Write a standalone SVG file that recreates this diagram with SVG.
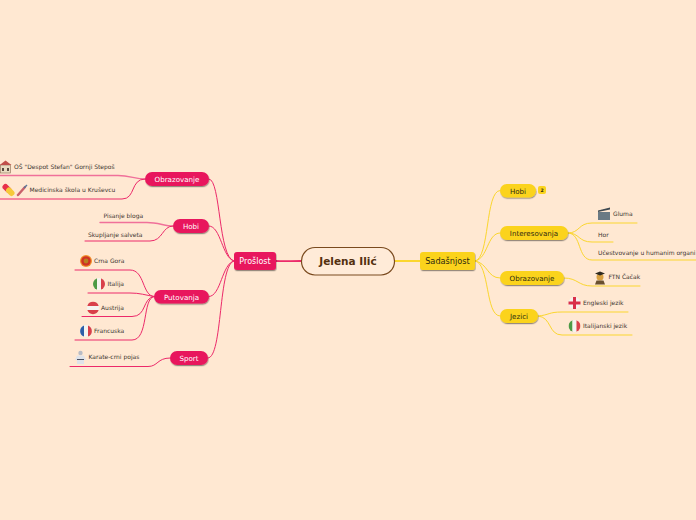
<svg xmlns="http://www.w3.org/2000/svg" width="696" height="520" viewBox="0 0 696 520">
<defs>
<filter id="sh" x="-20%" y="-30%" width="140%" height="170%"><feDropShadow dx="0.5" dy="1.2" stdDeviation="0.7" flood-color="#000" flood-opacity="0.4"/></filter>
<clipPath id="cc"><circle cx="0" cy="0" r="6"/></clipPath>
<g id="it"><g clip-path="url(#cc)"><rect x="-6" y="-6" width="4" height="12" fill="#4c9a45"/><rect x="-2" y="-6" width="4" height="12" fill="#f4f4f0"/><rect x="2" y="-6" width="4" height="12" fill="#d9404a"/></g></g>
</defs>
<style>
text{font-family:"DejaVu Sans",Verdana,sans-serif}
.r{fill:none;stroke:#ec2a6a;stroke-linecap:round}
.y{fill:none;stroke:#fbd62e;stroke-linecap:round}
.lr{stroke:#f0709a}
.n1{filter:url(#sh)}
.wt{fill:#fff;font-size:7.100px;text-anchor:middle}
.bt{fill:#2e2a10;font-size:7.100px;text-anchor:middle}
.lf{fill:#3d3530;font-size:6px}
</style>
<rect width="696" height="520" fill="#ffe8d2"/>
<g id="connectors">
<path class="r" stroke-width="1.800" d="M301 261C290 261 285 261.500 276 261"/>
<path class="y" stroke-width="1.800" d="M395 261C405 261 410 261 420 261"/>
<g stroke-width="1">
<path class="r" d="M234 261C218 258 221 179 209 179"/>
<path class="r" d="M234 261C222 258 221 226 209 226"/>
<path class="r" d="M234 261C222 263 221 296.500 209 296.500"/>
<path class="r" d="M234 261C218 264 223 358 208 358"/>
<path class="y" d="M475 261C490 259 485 190.500 500 190.500"/>
<path class="y" d="M475 261C488 259 487 233 500 233"/>
<path class="y" d="M475 261C488 263 487 278 500 278"/>
<path class="y" d="M475 261C490 263 485 316 500 316"/>
<path class="r" d="M154 296.500C142 296 145 270 130 270H75"/>
<path class="r" d="M154 296.500C145 295 140 293 130 293H88"/>
<path class="r" d="M154 296.500C142 298 147 316.500 132 316.500H82"/>
<path class="r" d="M154 296.500C142 298 149 340 132 340H75"/>
<path class="r" d="M170 358C157 358 158 366.500 148 366.500H70"/>
<path class="r lr" stroke-width="1.400" d="M145 179C135 179 130 175.500 118 175.500H0"/>
<path class="r" d="M145 179C130 179 136 199 122 199H0"/>
<path class="r lr" stroke-width="1.400" d="M173 226C165 226 158 222.500 147 222.500H100"/>
<path class="r" d="M173 226C162 226 163 241 150 241H85"/>
<path class="y" d="M568 233C580 233 578 223 592 223H637"/>
<path class="y" d="M568 233C580 233 578 242 592 242H613"/>
<path class="y" d="M568 233C582 233 577 260 592 260H696"/>
<path class="y" d="M564 278C578 278 578 286 592 286H640"/>
<path class="y" d="M538 316C550 315 548 312 562 312H628"/>
<path class="y" d="M538 316C552 317 548 335 562 335H632"/>
</g>
</g>
<g id="root"><rect x="301.500" y="247.500" width="93" height="27.500" rx="13.500" fill="#ffebd8" stroke="#7a4a1e" stroke-width="1.200"/><text x="348" y="265" font-size="10.500" font-weight="700" text-anchor="middle" fill="#53300f">Jelena Ilić</text></g>
<g id="proslost"><rect class="n1" x="234" y="252" width="42" height="18" rx="3" fill="#e8185d"/><text class="wt" x="255" y="264" style="font-size:8px">Prošlost</text></g>
<g id="sadasnjost"><rect class="n1" x="420" y="252" width="55" height="18" rx="3" fill="#fbd31e"/><text class="bt" x="447.500" y="264" style="font-size:8.200px">Sadašnjost</text></g>
<g id="obrazovanje-l"><rect class="n1" x="145" y="172" width="64" height="14" rx="7" fill="#e8185d"/><text class="wt" x="177" y="182">Obrazovanje</text></g>
<g id="hobi-l"><rect class="n1" x="173" y="219" width="36" height="14" rx="7" fill="#e8185d"/><text class="wt" x="191" y="229">Hobi</text></g>
<g id="putovanja"><rect class="n1" x="154" y="290" width="55" height="13.500" rx="6.700" fill="#e8185d"/><text class="wt" x="181.500" y="300">Putovanja</text></g>
<g id="sport"><rect class="n1" x="170" y="351" width="38" height="14" rx="7" fill="#e8185d"/><text class="wt" x="189" y="361">Sport</text></g>
<g id="hobi-r"><rect class="n1" x="500" y="184" width="36" height="13.500" rx="6.700" fill="#fbd31e"/><text class="bt" x="518" y="193.500">Hobi</text></g>
<g id="badge"><rect x="538" y="186" width="8" height="8" rx="2" fill="#fbd31e"/><text x="542" y="192" font-size="4.600" font-weight="700" text-anchor="middle" fill="#2e2a10">2</text></g>
<g id="interesovanja"><rect class="n1" x="500" y="226" width="68" height="14" rx="7" fill="#fbd31e"/><text class="bt" x="534" y="236">Interesovanja</text></g>
<g id="obrazovanje-r"><rect class="n1" x="500" y="271" width="64" height="14" rx="7" fill="#fbd31e"/><text class="bt" x="532" y="281">Obrazovanje</text></g>
<g id="jezici"><rect class="n1" x="500" y="309" width="38" height="14" rx="7" fill="#fbd31e"/><text class="bt" x="519" y="319">Jezici</text></g>
<g id="leaf-os"><rect x="0.500" y="165" width="10" height="8" fill="#e8dcc0" stroke="#8a6a50" stroke-width=".6"/><path d="M-0.500 165L5.500 160.500L11.500 165Z" fill="#c0504a"/><rect x="2" y="168" width="2" height="3" fill="#5a4a40"/><rect x="7" y="168" width="2" height="3" fill="#5a4a40"/><text class="lf" x="14" y="169">OŠ "Despot Stefan" Gornji Stepoš</text></g>
<g id="leaf-med"><path d="M5.500 187L8.500 190" stroke="#e8304a" stroke-width="6" stroke-linecap="round" fill="none"/><path d="M9 190.500L11.500 193" stroke="#f6c93a" stroke-width="6" stroke-linecap="round" fill="none"/><path d="M18 195L25 187" stroke="#c9606a" stroke-width="2.400" stroke-linecap="round"/><path d="M24 188L27 185" stroke="#5a7a9a" stroke-width="1.500"/><text class="lf" x="29.500" y="192">Medicinska škola u Kruševcu</text></g>
<g id="leaf-pisanje"><text class="lf" x="103.500" y="218">Pisanje bloga</text></g>
<g id="leaf-skupljanje"><text class="lf" x="88" y="237">Skupljanje salveta</text></g>
<g id="leaf-crna"><circle cx="86" cy="261" r="6" fill="#f0902a"/><circle cx="86" cy="261" r="4.800" fill="#cf3324"/><circle cx="86" cy="261" r="2.400" fill="#b8801f"/><text class="lf" x="94" y="263">Crna Gora</text></g>
<g id="leaf-italija"><use href="#it" transform="translate(99 284)"/><text class="lf" x="107.500" y="286">Italija</text></g>
<g id="leaf-austrija"><circle cx="93" cy="308" r="6" fill="#f4f4f0"/><path d="M87.300 306a6 6 0 0 1 11.400 0Z" fill="#d9404a"/><path d="M87.300 310a6 6 0 0 0 11.400 0Z" fill="#d9404a"/><text class="lf" x="101" y="310">Austrija</text></g>
<g id="leaf-francuska"><circle cx="86" cy="331" r="6" fill="#f4f4f0"/><path d="M84 325.400a6 6 0 0 0 0 11.200Z" fill="#2d5ea8"/><path d="M88 325.400a6 6 0 0 1 0 11.200Z" fill="#d9404a"/><text class="lf" x="94" y="333">Francuska</text></g>
<g id="leaf-karate"><circle cx="80.500" cy="353" r="2.200" fill="#b8bcc6"/><path d="M77 355.500h7l2 4.500h-2v4h-7v-4h-2Z" fill="#dfe3ea"/><rect x="77" y="359" width="7" height="1" fill="#4a5060"/><text class="lf" x="88.500" y="359">Karate-crni pojas</text></g>
<g id="leaf-gluma"><rect x="598" y="212" width="12" height="8" fill="#6a7a84"/><path d="M598 210.500L610 207.500V209.500L598 212Z" fill="#3f4a52"/><text class="lf" x="613" y="216">Gluma</text></g>
<g id="leaf-hor"><text class="lf" x="598" y="237">Hor</text></g>
<g id="leaf-ucestvovanje"><text class="lf" x="598" y="255">Učestvovanje u humanim organi</text></g>
<g id="leaf-ftn"><circle cx="600" cy="277" r="3.500" fill="#d8a040"/><path d="M596.500 280.500h7l1.500 4h-10Z" fill="#6a5030"/><path d="M595 273.500L600 271.500L605 273.500L600 275.500Z" fill="#2e2a20"/><text class="lf" x="608.500" y="279">FTN Čačak</text></g>
<g id="leaf-engleski"><circle cx="574.500" cy="303" r="6" fill="#f6f2ee"/><path d="M573 297h3v4.500h4.500v3H576V309h-3v-4.500h-4.500v-3H573Z" fill="#d9304a"/><text class="lf" x="583" y="305">Engleski jezik</text></g>
<g id="leaf-italijanski"><use href="#it" transform="translate(574.500 326)"/><text class="lf" x="583" y="328">Italijanski jezik</text></g>
</svg>
